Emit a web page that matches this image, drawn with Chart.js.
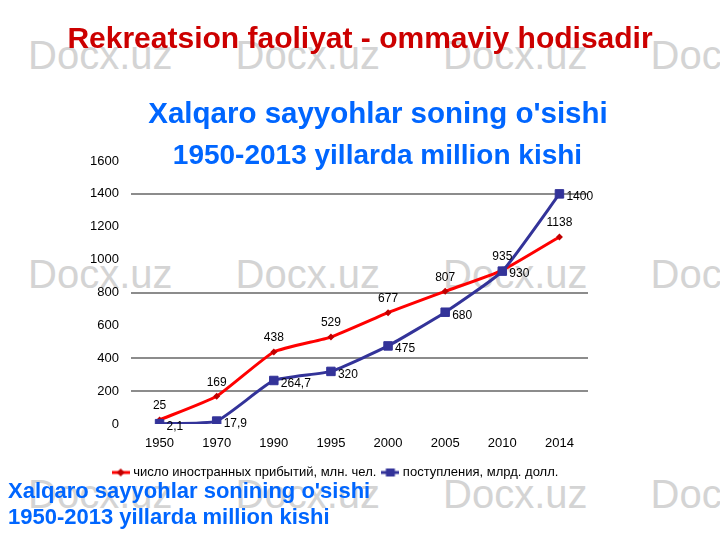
<!DOCTYPE html>
<html>
<head>
<meta charset="utf-8">
<script src="https://cdn.jsdelivr.net/npm/chart.js@4.4.1/dist/chart.umd.min.js"></script>
<style>
html,body{margin:0;padding:0;background:#fff;}
#wrap{position:relative;width:720px;height:540px;overflow:hidden;font-family:"Liberation Sans",Arial,sans-serif;}
.wm{position:absolute;font-size:40px;line-height:40px;color:#d4d4d4;white-space:nowrap;}
#chart{position:absolute;left:0;top:0;}
.t{position:absolute;white-space:nowrap;font-weight:bold;}
</style>
</head>
<body>
<div id="wrap">
  <div id="wms"></div>
  <canvas id="chart" width="720" height="540"></canvas>
  <div class="t" style="left:0;width:720px;text-align:center;top:22.5px;font-size:30px;line-height:30px;color:#cc0000;">Rekreatsion faoliyat - ommaviy hodisadir</div>
  <div class="t" style="left:0;width:756px;text-align:center;top:97.5px;font-size:29.5px;line-height:29.5px;color:#0066ff;">Xalqaro sayyohlar soning o'sishi</div>
  <div class="t" style="left:0;width:755px;text-align:center;top:141px;font-size:28px;line-height:28px;color:#0066ff;">1950-2013 yillarda million kishi</div>
  <div class="t" style="left:8px;top:480px;font-size:22px;line-height:22px;color:#0066ff;">Xalqaro sayyohlar sonining o'sishi</div>
  <div class="t" style="left:8px;top:506px;font-size:22px;line-height:22px;color:#0066ff;">1950-2013 yillarda million kishi</div>
</div>
<script>
const categories = ['1950', '1970', '1990', '1995', '2000', '2005', '2010', '2014'];
const arrivals = [25, 169, 438, 529, 677, 807, 935, 1138];
const receipts = [2.1, 17.9, 264.7, 320, 475, 680, 930, 1400];
const seriesNames = ['число иностранных прибытий, млн. чел.', 'поступления, млрд. долл.'];
const yTicks = [0, 200, 400, 600, 800, 1000, 1200, 1400, 1600];
const gridValues = [200, 400, 800, 1400];

// watermark
const wms = document.getElementById('wms');
[35, 254, 474].forEach(top => {
  [28, 235.5, 443, 650.5].forEach(left => {
    const d = document.createElement('div');
    d.className = 'wm';
    d.style.left = left + 'px';
    d.style.top = top + 'px';
    d.textContent = 'Docx.uz';
    wms.appendChild(d);
  });
});

const FONT = '"Liberation Sans", Arial, sans-serif';
Chart.defaults.font.family = FONT;

function legendSymbol(lineColor, markColor, shape) {
  const c = document.createElement('canvas');
  c.width = 18; c.height = 10;
  const g = c.getContext('2d');
  g.strokeStyle = lineColor; g.lineWidth = 3;
  g.beginPath(); g.moveTo(0, 5); g.lineTo(18, 5); g.stroke();
  g.fillStyle = markColor;
  if (shape === 'diamond') {
    g.beginPath(); g.moveTo(9, 1); g.lineTo(13, 5); g.lineTo(9, 9); g.lineTo(5, 5); g.closePath(); g.fill();
  } else {
    g.fillRect(4.5, 1, 9, 8);
  }
  return c;
}
const symbols = [legendSymbol('#ff0000', '#c00000', 'diamond'), legendSymbol('#333399', '#333399', 'square')];

const valueLabels = {
  id: 'valueLabels',
  afterDatasetsDraw(chart) {
    const ctx = chart.ctx;
    ctx.save();
    ctx.font = '12px ' + FONT;
    ctx.fillStyle = '#000';
    ctx.textBaseline = 'middle';
    chart.data.datasets.forEach((ds, i) => {
      const meta = chart.getDatasetMeta(i);
      meta.data.forEach((pt, j) => {
        const txt = String(ds.data[j]).replace('.', ',');
        if (i === 0) {
          ctx.textAlign = 'center';
          ctx.fillText(txt, pt.x, pt.y - 14);
        } else {
          ctx.textAlign = 'left';
          ctx.fillText(txt, pt.x + 7, pt.y + 3);
        }
      });
    });
    ctx.restore();
  }
};

new Chart(document.getElementById('chart'), {
  type: 'line',
  data: {
    labels: categories,
    datasets: [
      {
        label: seriesNames[0], data: arrivals,
        borderColor: '#ff0000', borderWidth: 3,
        pointStyle: 'rectRot', pointRadius: 3.5,
        pointBackgroundColor: '#c00000', pointBorderColor: '#c00000', pointBorderWidth: 0,
        tension: 0.15, order: 2
      },
      {
        label: seriesNames[1], data: receipts,
        borderColor: '#333399', borderWidth: 3,
        pointStyle: 'rect', pointRadius: 6,
        pointBackgroundColor: '#333399', pointBorderColor: '#333399', pointBorderWidth: 1,
        tension: 0.15, order: 1
      }
    ]
  },
  options: {
    responsive: false,
    animation: false,
    layout: { padding: { left: 85, right: 132, top: 161, bottom: 51 } },
    plugins: {
      tooltip: { enabled: false },
      title: { display: false },
      legend: {
        position: 'bottom',
        labels: {
          usePointStyle: true, pointStyleWidth: 12, boxHeight: 13,
          font: { size: 13, family: FONT }, color: '#000', padding: 8,
          generateLabels(chart) {
            const items = Chart.defaults.plugins.legend.labels.generateLabels(chart);
            items.sort((a, b) => a.datasetIndex - b.datasetIndex);
            items.forEach(it => { it.pointStyle = symbols[it.datasetIndex]; it.fontColor = '#000'; });
            return items;
          }
        }
      }
    },
    scales: {
      x: {
        offset: true,
        grid: { display: false, offset: true },
        border: { display: false },
        ticks: { padding: 4, font: { size: 13 }, color: '#000', maxRotation: 0 },
        afterFit(s) { s.height = 34; }
      },
      y: {
        min: 0, max: 1600,
        afterBuildTicks(s) { s.ticks = yTicks.map(v => ({ value: v })); },
        grid: {
          color: c => gridValues.includes(c.tick.value) ? '#8c8c8c' : 'rgba(0,0,0,0)',
          lineWidth: 2, drawTicks: false
        },
        border: { display: false },
        ticks: { padding: 12, font: { size: 13 }, color: '#000', callback: v => String(v) },
        afterFit(s) { s.width = 46; }
      }
    }
  },
  plugins: [valueLabels]
});
</script>
</body>
</html>
